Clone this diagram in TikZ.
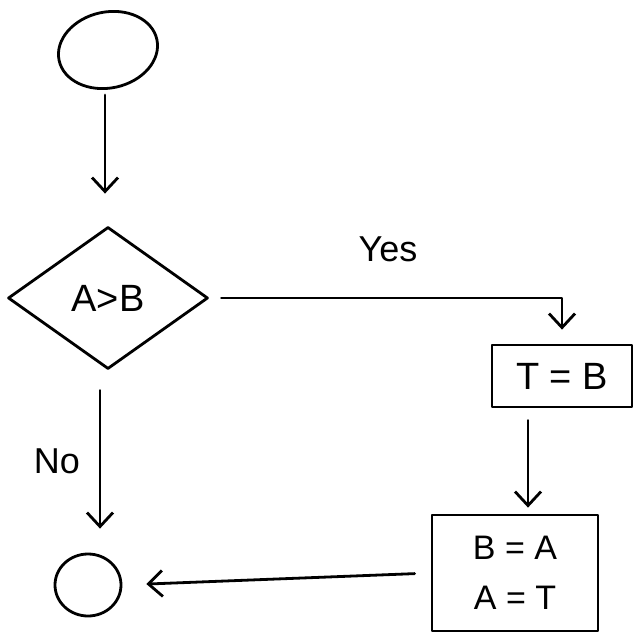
\documentclass[tikz,border=0pt]{standalone}
\usepackage{fontspec}
\setmainfont{Liberation Sans}
\usetikzlibrary{shapes.geometric,arrows.meta}
\begin{document}
\begin{tikzpicture}[x=0.5pt,y=-0.5pt,
  line width=1.4pt, line cap=round, line join=round,
  shp/.style={draw, inner sep=0pt},
  arr/.style={draw, -{Straight Barb[length=7pt,width=13pt,line width=1.4pt]}},
  lbl/.style={font=\fontsize{18}{22}\selectfont}
]
\useasboundingbox (0,0) rectangle (640,640);
\node[shp, ellipse, minimum width=50pt, minimum height=38pt, rotate=12] (start) at (108,50) {};
\node[shp, diamond, minimum width=100pt, minimum height=71pt, font=\fontsize{19}{22}\selectfont] (dec) at (108,298) {A>B};
\node[shp, rectangle, minimum width=70pt, minimum height=31pt, font=\fontsize{19}{22}\selectfont] (tb) at (562,376) {T = B};
\node[shp, rectangle, minimum width=83pt, minimum height=58pt, align=center, font=\fontsize{17}{25}\selectfont] (ab) at (515,573) {B = A\\A = T};
\node[shp, ellipse, minimum width=33pt, minimum height=31pt] (end) at (88,585) {};
\draw[arr, shorten <=22.5pt, shorten >=16pt] ([xshift=-1.5pt]start.center) -- ([xshift=-1.5pt]start.center |- dec.north);
\draw[arr, shorten <=6pt, shorten >=7pt] (dec.east) -| node[pos=0.5, above=14pt, lbl, xshift=-87pt] {Yes} (tb.north);
\draw[arr, shorten <=6pt, shorten >=3pt] ([xshift=-17pt]tb.south) -- ([xshift=-17pt]tb.south |- ab.north);
\draw[arr, shorten <=8pt, shorten >=12pt] (ab.west) -- (end.east);
\draw[arr, shorten <=10pt, shorten >=12pt] ([xshift=-4pt]dec.south) -- node[left=6pt, lbl] {No} ([xshift=-4pt]dec.south |- end.north);
\end{tikzpicture}
\end{document}
